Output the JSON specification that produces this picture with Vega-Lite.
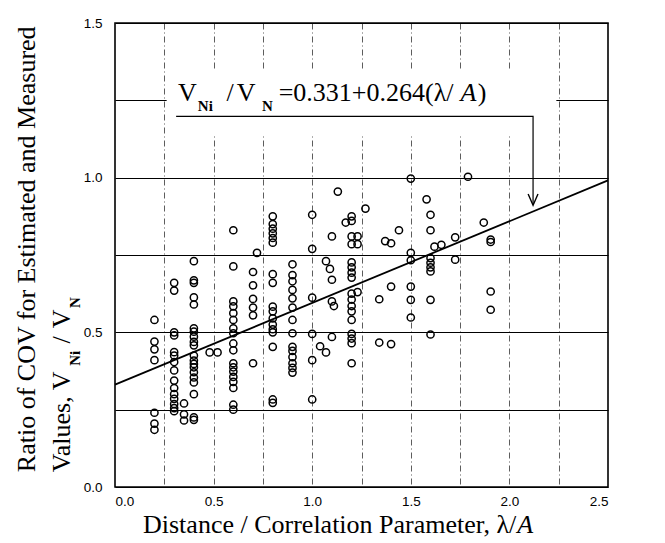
{
  "$schema": "https://vega.github.io/schema/vega-lite/v6.json",
  "width": 493,
  "height": 464,
  "autosize": {"type": "none"},
  "padding": {"left": 115, "top": 23, "right": 57, "bottom": 56},
  "background": "white",
  "config": {
    "view": {"stroke": "#000", "strokeWidth": 1.6},
    "axis": {"labelFont": "Liberation Sans", "labelFontSize": 13.5, "labelColor": "#000", "ticks": false, "tickSize": 0, "domain": false, "labelOverlap": false, "labelBound": false}
  },
  "datasets": {
    "points": [
      {"x":0.2,"y":0.54},{"x":0.2,"y":0.47},{"x":0.2,"y":0.445},{"x":0.2,"y":0.41},{"x":0.2,"y":0.24},{"x":0.2,"y":0.205},{"x":0.2,"y":0.185},
      {"x":0.3,"y":0.66},{"x":0.3,"y":0.635},{"x":0.3,"y":0.5},{"x":0.3,"y":0.49},{"x":0.3,"y":0.436},{"x":0.3,"y":0.425},{"x":0.3,"y":0.404},{"x":0.3,"y":0.377},{"x":0.3,"y":0.344},{"x":0.3,"y":0.32},{"x":0.3,"y":0.3},{"x":0.3,"y":0.285},{"x":0.3,"y":0.268},{"x":0.3,"y":0.255},{"x":0.3,"y":0.245},
      {"x":0.35,"y":0.27},{"x":0.35,"y":0.235},{"x":0.35,"y":0.215},
      {"x":0.4,"y":0.73},{"x":0.4,"y":0.668},{"x":0.4,"y":0.66},{"x":0.4,"y":0.613},{"x":0.4,"y":0.59},{"x":0.4,"y":0.513},{"x":0.4,"y":0.502},{"x":0.4,"y":0.486},{"x":0.4,"y":0.469},{"x":0.4,"y":0.458},{"x":0.4,"y":0.425},{"x":0.4,"y":0.409},{"x":0.4,"y":0.398},{"x":0.4,"y":0.387},{"x":0.4,"y":0.371},{"x":0.4,"y":0.354},{"x":0.4,"y":0.338},{"x":0.4,"y":0.3},{"x":0.4,"y":0.225},{"x":0.4,"y":0.217},
      {"x":0.48,"y":0.435},{"x":0.52,"y":0.435},
      {"x":0.6,"y":0.83},{"x":0.6,"y":0.713},{"x":0.6,"y":0.6},{"x":0.6,"y":0.584},{"x":0.6,"y":0.562},{"x":0.6,"y":0.54},{"x":0.6,"y":0.513},{"x":0.6,"y":0.497},{"x":0.6,"y":0.464},{"x":0.6,"y":0.442},{"x":0.6,"y":0.4},{"x":0.6,"y":0.387},{"x":0.6,"y":0.373},{"x":0.6,"y":0.356},{"x":0.6,"y":0.34},{"x":0.6,"y":0.32},{"x":0.6,"y":0.266},{"x":0.6,"y":0.25},
      {"x":0.7,"y":0.695},{"x":0.7,"y":0.652},{"x":0.7,"y":0.608},{"x":0.7,"y":0.58},{"x":0.7,"y":0.555},{"x":0.7,"y":0.4},
      {"x":0.72,"y":0.757},
      {"x":0.8,"y":0.875},{"x":0.8,"y":0.85},{"x":0.8,"y":0.835},{"x":0.8,"y":0.82},{"x":0.8,"y":0.805},{"x":0.8,"y":0.79},{"x":0.8,"y":0.688},{"x":0.8,"y":0.66},{"x":0.8,"y":0.583},{"x":0.8,"y":0.568},{"x":0.8,"y":0.545},{"x":0.8,"y":0.525},{"x":0.8,"y":0.51},{"x":0.8,"y":0.5},{"x":0.8,"y":0.453},{"x":0.8,"y":0.283},{"x":0.8,"y":0.272},
      {"x":0.9,"y":0.72},{"x":0.9,"y":0.685},{"x":0.9,"y":0.665},{"x":0.9,"y":0.637},{"x":0.9,"y":0.61},{"x":0.9,"y":0.58},{"x":0.9,"y":0.54},{"x":0.9,"y":0.497},{"x":0.9,"y":0.453},{"x":0.9,"y":0.44},{"x":0.9,"y":0.42},{"x":0.9,"y":0.4},{"x":0.9,"y":0.385},{"x":0.9,"y":0.37},
      {"x":1.0,"y":0.88},{"x":1.0,"y":0.77},{"x":1.0,"y":0.612},{"x":1.0,"y":0.495},{"x":1.0,"y":0.41},{"x":1.0,"y":0.283},
      {"x":1.04,"y":0.455},{"x":1.07,"y":0.435},{"x":1.07,"y":0.73},{"x":1.09,"y":0.705},{"x":1.1,"y":0.67},{"x":1.1,"y":0.81},{"x":1.1,"y":0.6},{"x":1.11,"y":0.585},{"x":1.1,"y":0.485},
      {"x":1.13,"y":0.955},{"x":1.17,"y":0.855},
      {"x":1.2,"y":0.875},{"x":1.2,"y":0.86},{"x":1.2,"y":0.81},{"x":1.2,"y":0.785},{"x":1.2,"y":0.726},{"x":1.2,"y":0.71},{"x":1.2,"y":0.693},{"x":1.2,"y":0.677},{"x":1.2,"y":0.625},{"x":1.2,"y":0.606},{"x":1.2,"y":0.585},{"x":1.2,"y":0.568},{"x":1.2,"y":0.54},{"x":1.2,"y":0.495},{"x":1.2,"y":0.48},{"x":1.2,"y":0.465},{"x":1.2,"y":0.4},
      {"x":1.23,"y":0.81},{"x":1.23,"y":0.785},{"x":1.23,"y":0.63},
      {"x":1.27,"y":0.9},
      {"x":1.34,"y":0.607},{"x":1.34,"y":0.467},
      {"x":1.37,"y":0.795},
      {"x":1.4,"y":0.788},{"x":1.4,"y":0.648},{"x":1.4,"y":0.462},
      {"x":1.44,"y":0.83},
      {"x":1.5,"y":0.997},{"x":1.5,"y":0.757},{"x":1.5,"y":0.733},{"x":1.5,"y":0.648},{"x":1.5,"y":0.605},{"x":1.5,"y":0.548},
      {"x":1.58,"y":0.93},
      {"x":1.6,"y":0.88},{"x":1.6,"y":0.83},{"x":1.6,"y":0.74},{"x":1.6,"y":0.725},{"x":1.6,"y":0.71},{"x":1.6,"y":0.697},{"x":1.6,"y":0.605},{"x":1.6,"y":0.493},
      {"x":1.62,"y":0.777},{"x":1.655,"y":0.783},
      {"x":1.725,"y":0.807},{"x":1.725,"y":0.735},
      {"x":1.79,"y":1.003},
      {"x":1.87,"y":0.855},
      {"x":1.905,"y":0.8},{"x":1.905,"y":0.792},{"x":1.905,"y":0.632},{"x":1.905,"y":0.573}
    ],
    "fit": [{"x":0,"y":0.331},{"x":2.5,"y":0.991}],
    "gap": [{"x":0.262,"x2":2.238,"y":1.14,"y2":1.345}],
    "bracket": [{"x":0.31,"y":1.198,"o":0},{"x":2.12,"y":1.198,"o":1},{"x":2.12,"y":0.915,"o":2}],
    "arrowhead": [{"x":2.095,"y":0.947,"o":0},{"x":2.12,"y":0.911,"o":1},{"x":2.145,"y":0.947,"o":2}],
    "eqBig": [{"x":0.32,"y":1.249,"t":"V"},{"x":0.565,"y":1.249,"t":"/"},{"x":0.618,"y":1.249,"t":"V"},{"x":0.83,"y":1.249,"t":"=0.331+0.264(λ/"},{"x":1.84,"y":1.249,"t":")"}],
    "eqSub": [{"x":0.42,"y":1.214,"t":"Ni"},{"x":0.745,"y":1.214,"t":"N"}],
    "eqItal": [{"x":1.752,"y":1.249,"t":"A"}],
    "yTitle": [{"x":-0.406,"y":0.048,"t":"Ratio of COV for Estimated and Measured"},{"x":-0.228,"y":0.048,"t":"Values, V"},{"x":-0.228,"y":0.464,"t":"/"},{"x":-0.228,"y":0.513,"t":"V"}],
    "yTitleSub": [{"x":-0.18,"y":0.392,"t":"Ni"},{"x":-0.18,"y":0.579,"t":"N"}],
    "xTitle": [{"x":0.142,"y":-0.148,"t":"Distance / Correlation Parameter,  λ/"}],
    "xTitleItal": [{"x":2.04,"y":-0.148,"t":"A"}]
  },
  "encoding": {
    "x": {"field": "x", "type": "quantitative", "scale": {"domain": [0, 2.5], "nice": false, "zero": false},
      "axis": {"title": null, "values": [0,0.25,0.5,0.75,1,1.25,1.5,1.75,2,2.25,2.5], "labelExpr": "datum.value % 0.5 === 0 ? format(datum.value, '.1f') : ''", "grid": true, "gridColor": "#333", "gridDash": [6,3,1,3], "gridWidth": 0.8, "labelPadding": 7}},
    "y": {"field": "y", "type": "quantitative", "scale": {"domain": [0, 1.5], "nice": false, "zero": false},
      "axis": {"title": null, "values": [0,0.25,0.5,0.75,1,1.25,1.5], "labelExpr": "datum.value % 0.5 === 0 ? format(datum.value, '.1f') : ''", "grid": true, "gridColor": "#000", "gridWidth": 1.1, "labelPadding": 13}}
  },
  "layer": [
    {
      "data": {"name": "gap"},
      "mark": {"type": "rect", "fill": "white"},
      "encoding": {"x2": {"field": "x2"}, "y2": {"field": "y2"}}
    },
    {
      "data": {"name": "points"},
      "mark": {"type": "point", "shape": "circle", "filled": false, "stroke": "#000", "strokeWidth": 1.5, "size": 52, "opacity": 1}
    },
    {
      "data": {"name": "fit"},
      "mark": {"type": "line", "stroke": "#000", "strokeWidth": 1.8}
    },
    {
      "data": {"name": "bracket"},
      "mark": {"type": "line", "stroke": "#000", "strokeWidth": 1.2},
      "encoding": {"order": {"field": "o"}}
    },
    {
      "data": {"name": "arrowhead"},
      "mark": {"type": "line", "stroke": "#000", "strokeWidth": 1.4},
      "encoding": {"order": {"field": "o"}}
    },
    {
      "data": {"name": "eqBig"},
      "mark": {"type": "text", "font": "Liberation Serif", "fontSize": 26, "align": "left", "baseline": "alphabetic", "color": "#000"},
      "encoding": {"text": {"field": "t"}}
    },
    {
      "data": {"name": "eqSub"},
      "mark": {"type": "text", "font": "Liberation Serif", "fontSize": 15, "fontWeight": "bold", "align": "left", "baseline": "alphabetic", "color": "#000"},
      "encoding": {"text": {"field": "t"}}
    },
    {
      "data": {"name": "eqItal"},
      "mark": {"type": "text", "font": "Liberation Serif", "fontSize": 26, "fontStyle": "italic", "align": "left", "baseline": "alphabetic", "color": "#000"},
      "encoding": {"text": {"field": "t"}}
    },
    {
      "data": {"name": "yTitle"},
      "mark": {"type": "text", "font": "Liberation Serif", "fontSize": 26, "angle": 270, "align": "left", "baseline": "alphabetic", "color": "#000"},
      "encoding": {"text": {"field": "t"}}
    },
    {
      "data": {"name": "yTitleSub"},
      "mark": {"type": "text", "font": "Liberation Serif", "fontSize": 15, "fontWeight": "bold", "angle": 270, "align": "left", "baseline": "alphabetic", "color": "#000"},
      "encoding": {"text": {"field": "t"}}
    },
    {
      "data": {"name": "xTitle"},
      "mark": {"type": "text", "font": "Liberation Serif", "fontSize": 26, "align": "left", "baseline": "alphabetic", "color": "#000"},
      "encoding": {"text": {"field": "t"}}
    },
    {
      "data": {"name": "xTitleItal"},
      "mark": {"type": "text", "font": "Liberation Serif", "fontSize": 26, "fontStyle": "italic", "align": "left", "baseline": "alphabetic", "color": "#000"},
      "encoding": {"text": {"field": "t"}}
    }
  ]
}
